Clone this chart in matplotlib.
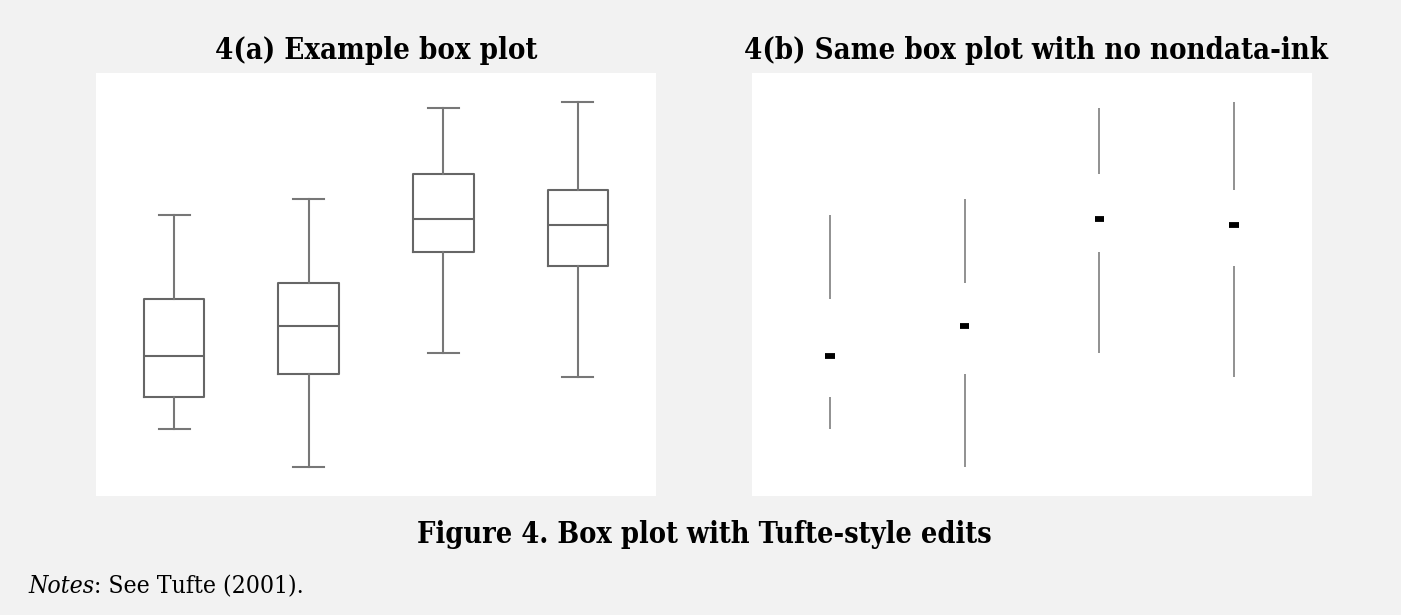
import numpy as np
import matplotlib.pyplot as plt
from matplotlib import font_manager

# box plot summary values (scale 0-100)
positions = [1, 2, 3, 4]
whislo = [15.9, 6.9, 33.7, 28.2]
q1 = [23.3, 28.8, 57.6, 54.4]
med = [33.1, 40.2, 65.6, 64.1]
q3 = [46.6, 50.4, 76.1, 72.3]
whishi = [66.4, 70.1, 91.7, 93.1]

titles = ['4(a) Example box plot', '4(b) Same box plot with no nondata-ink']
caption = 'Figure 4. Box plot with Tufte-style edits'

W, H = 1401, 615
bg = '#f2f2f2'

# a condensed serif is closer to the original Cambria, if there is one
has_cond = any(f.name == 'DejaVu Serif' and f.stretch == 'condensed'
               for f in font_manager.fontManager.ttflist)
if has_cond:
    serif = ['DejaVu Serif']
    stretch = 'condensed'
else:
    serif = ['Liberation Serif', 'DejaVu Serif']
    stretch = 'normal'

fig = plt.figure(figsize=(W / 100, H / 100), dpi=100, facecolor=bg)


def px_axes(x0, y0, x1, y1):
    # pixel box (top-left origin) -> figure axes
    return fig.add_axes([x0 / W, 1 - y1 / H, (x1 - x0) / W, (y1 - y0) / H])


def fit_text(x, base, s, width, ha='center', **kw):
    # place text and scale font size so it spans the given pixel width
    t = fig.text(x / W, 1 - base / H, s, ha=ha, va='baseline',
                 fontsize=20, family=serif, fontstretch=stretch, **kw)
    fig.canvas.draw()
    w = t.get_window_extent().width
    t.set_fontsize(20 * width / w)
    return t


ax1 = px_axes(96, 73, 656, 496)
ax2 = px_axes(752, 73, 1312, 496)

for ax in (ax1, ax2):
    ax.set_facecolor('white')
    ax.set_xlim(0.42, 4.58)
    ax.set_ylim(0, 100)
    for s in ax.spines.values():
        s.set_visible(False)
    ax.set_xticks([])
    ax.set_yticks([])

# -----------------------------------------------------
# 4(a) - classic box plot
# -----------------------------------------------------
stats = []
for i in range(len(positions)):
    stats.append(dict(whislo=whislo[i], q1=q1[i], med=med[i],
                      q3=q3[i], whishi=whishi[i], fliers=[]))

line_col = '#666666'
ax1.bxp(stats, positions=positions, widths=0.45, capwidths=0.23,
        showfliers=False, manage_ticks=False,
        boxprops=dict(color=line_col, linewidth=1.5),
        whiskerprops=dict(color='#777777', linewidth=1.5),
        capprops=dict(color='#777777', linewidth=1.5),
        medianprops=dict(color=line_col, linewidth=1.5))

# -----------------------------------------------------
# 4(b) - Tufte version: whiskers + median dot
# -----------------------------------------------------
pos = np.array(positions)
ax2.vlines(pos, q3, whishi, color='#888888', linewidth=1.3)
ax2.vlines(pos, whislo, q1, color='#888888', linewidth=1.3)
ax2.hlines(med, pos - 0.035, pos + 0.035, color='black', linewidth=4.2)

# -----------------------------------------------------
# text
# -----------------------------------------------------
fit_text(376, 59, titles[0], 322, fontweight='bold')
fit_text(1036, 59, titles[1], 583, fontweight='bold')
fit_text(704, 543, caption, 575, fontweight='bold')

note1 = fit_text(28, 593, 'Notes', 66, ha='left', fontstyle='italic')
fig.canvas.draw()
bb = note1.get_window_extent()
t = fig.text(bb.x1 / W, 1 - 593 / H, ': See Tufte (2001).', ha='left',
             va='baseline', fontsize=note1.get_fontsize(), family=serif,
             fontstretch=stretch)

fig.savefig('out.png', dpi=100, facecolor=bg)
